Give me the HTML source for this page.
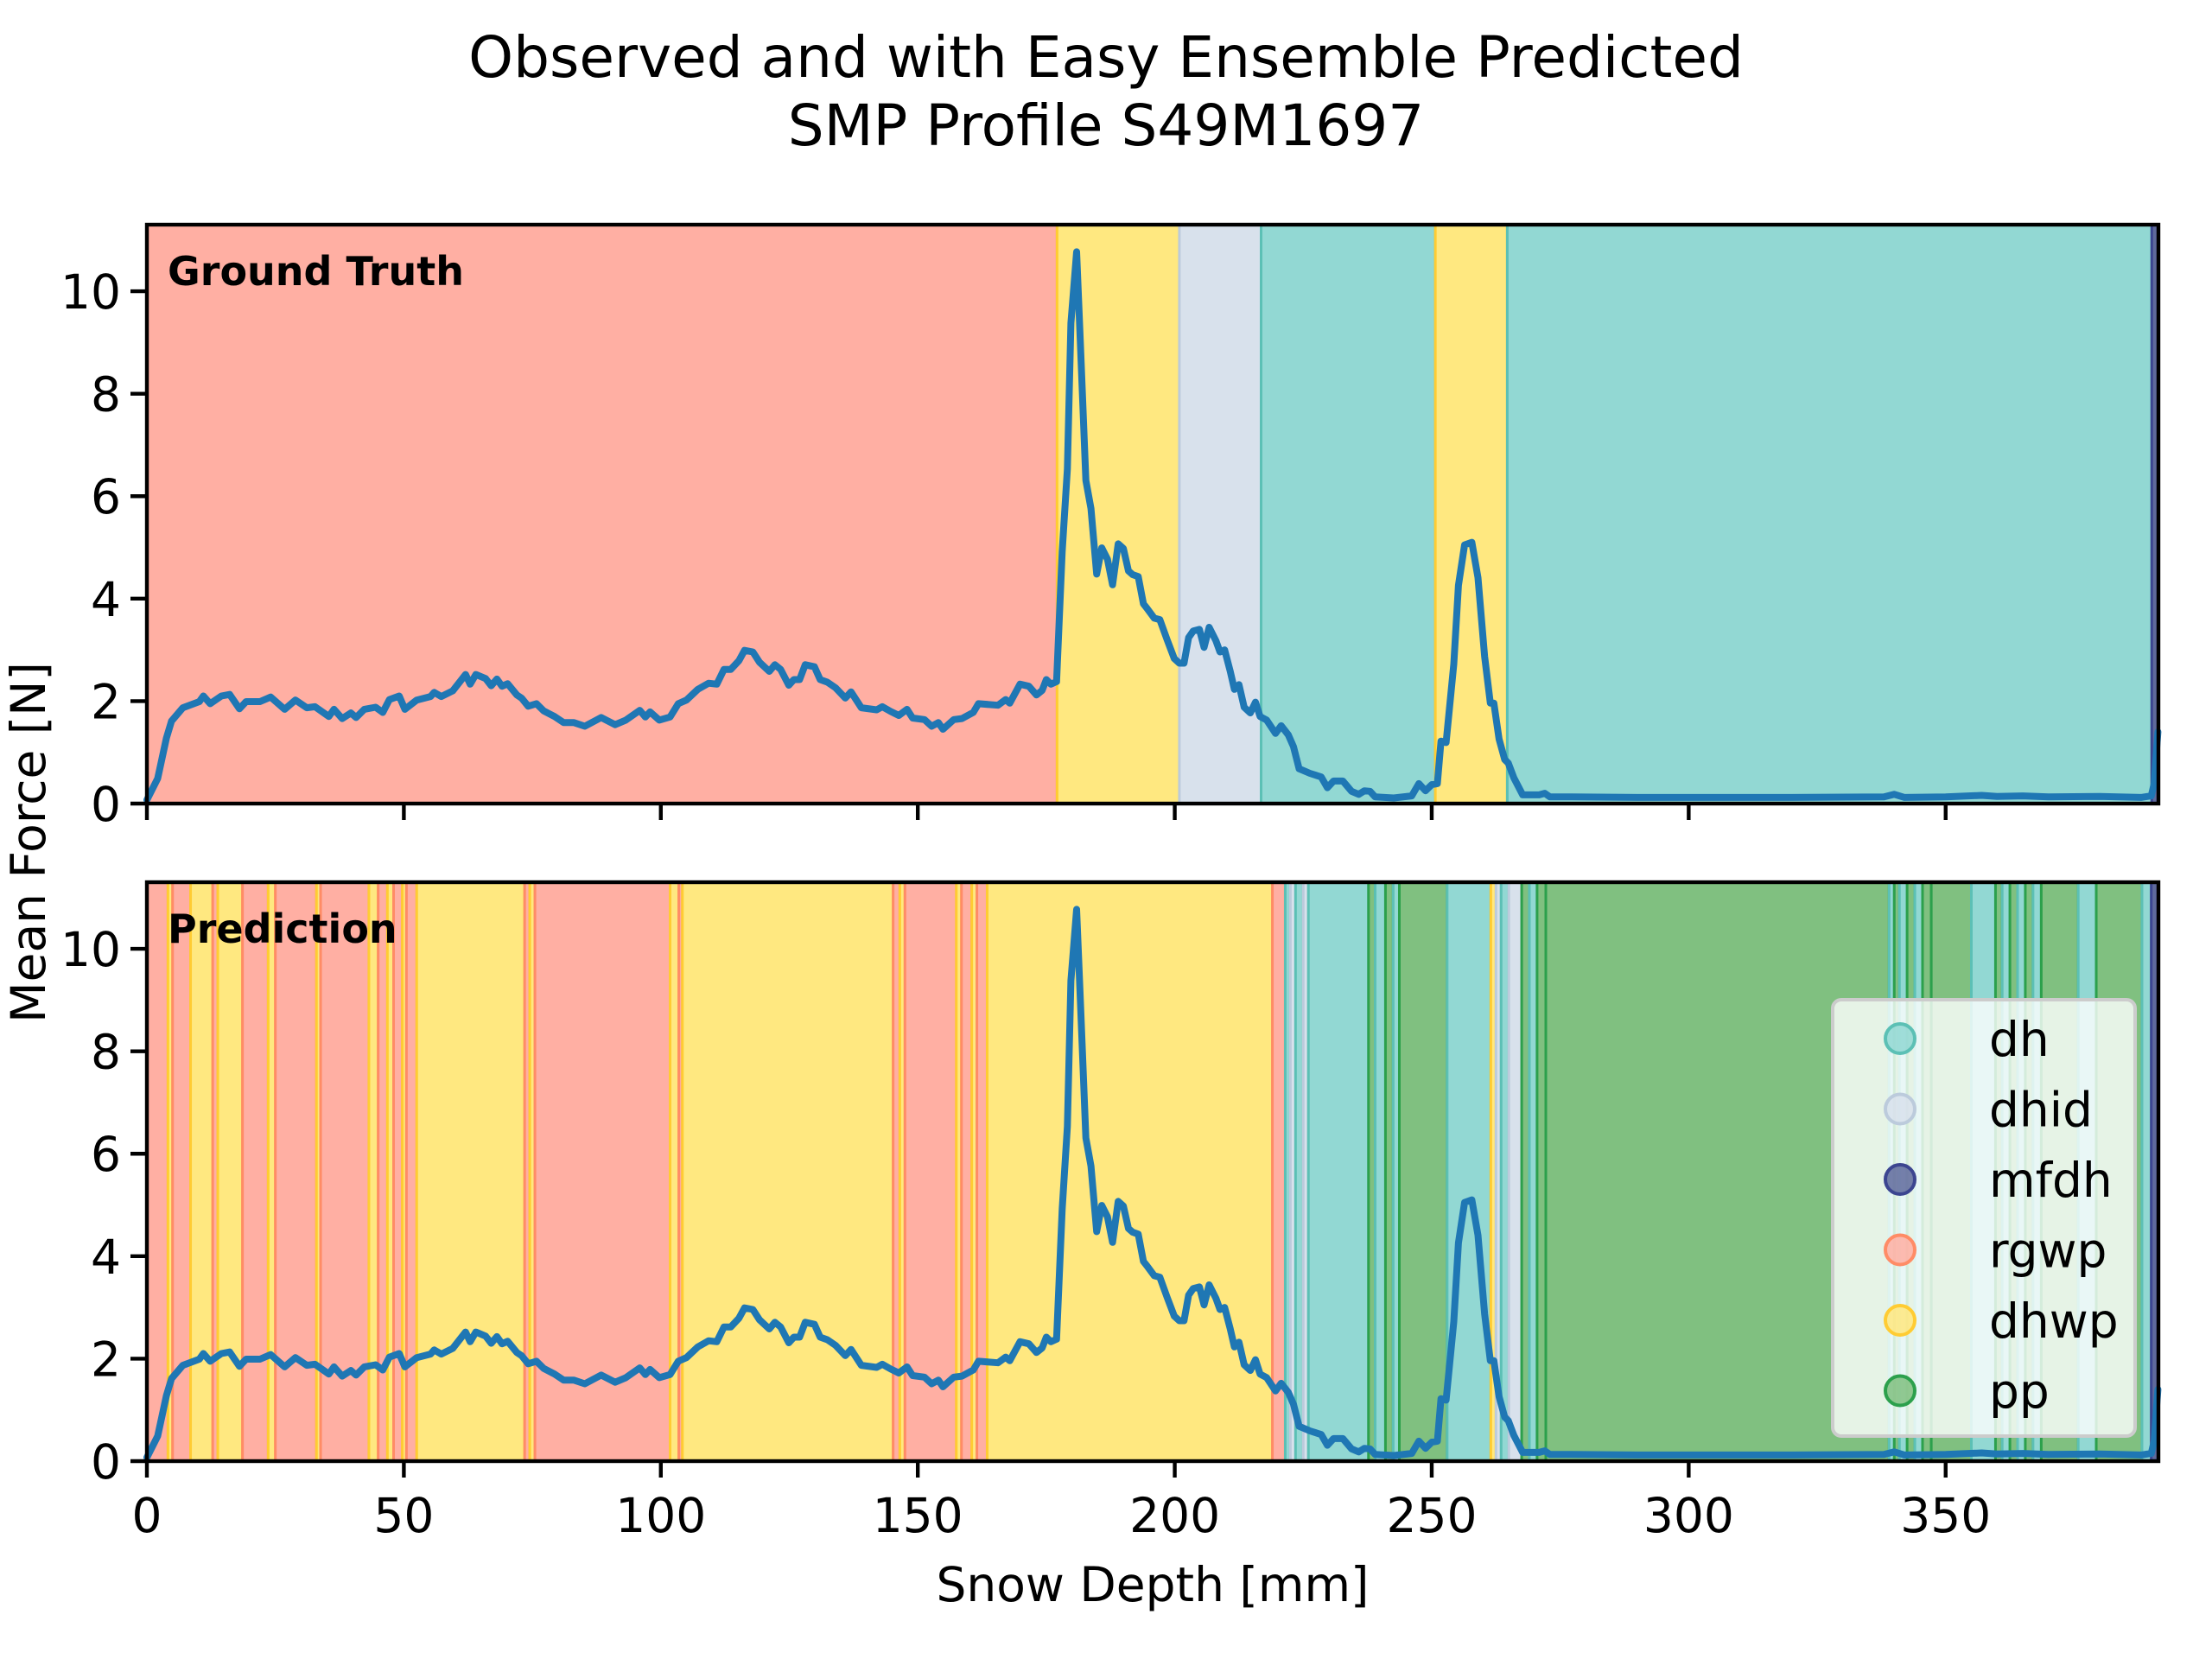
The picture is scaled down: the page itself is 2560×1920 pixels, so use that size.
<!DOCTYPE html>
<html><head><meta charset="utf-8"><style>
html,body{margin:0;padding:0;background:#fff;}
svg{display:block;font-family:"DejaVu Sans","Liberation Sans",sans-serif;}
</style></head><body>
<svg id="chart" width="2560" height="1920" viewBox="0 0 2560 1920" xmlns="http://www.w3.org/2000/svg">
<rect width="2560" height="1920" fill="#fff"/>
<text x="1280" y="89" font-size="66" text-anchor="middle">Observed and with Easy Ensemble Predicted</text>
<text x="1280" y="168" font-size="66" text-anchor="middle">SMP Profile S49M1697</text>
<g id="top"></g>
<g id="bot"></g>
<text transform="translate(52,975) rotate(-90)" font-size="55" text-anchor="middle">Mean Force [N]</text>
<text x="1334" y="1853" font-size="55" text-anchor="middle">Snow Depth [mm]</text>
</svg>
<script>
const depth = [0,2.1,3.8,4.8,7.0,10.2,11.0,12.3,14.5,16.1,18.0,19.3,22.0,24.1,26.8,28.9,31.1,32.7,35.4,36.4,38.0,39.7,40.7,42.3,44.5,45.9,47.2,49.1,50.2,52.5,55.2,55.9,57.3,59.5,62.0,62.9,64.0,65.9,67.0,68.1,69.1,70.2,72.0,72.9,74.2,75.8,77.2,79.3,81.1,83.1,85.2,88.4,91.1,93.2,95.9,97.0,97.9,99.7,101.8,103.4,105.0,107.2,109.3,110.9,112.3,113.6,115.2,116.3,117.9,119.2,121.1,122.2,123.3,124.9,125.9,127.0,128.1,129.9,131.0,132.4,134.0,135.9,137.0,139.0,142.0,143.1,144.7,146.3,147.9,149.0,151.3,152.7,154.0,154.9,157.0,158.6,160.8,161.8,165.6,167.1,167.9,169.9,171.6,173.1,174.2,175.0,175.9,177.0,178.1,179.1,179.8,180.9,181.6,182.7,183.7,184.8,185.8,186.9,187.9,189.0,190.0,191.0,191.8,192.9,193.9,194.6,196.0,197.1,198.5,199.9,200.9,201.8,202.7,203.6,204.8,205.7,206.7,208.0,208.8,209.7,210.8,211.6,212.5,213.5,214.7,215.7,216.6,217.9,219.6,220.7,222.1,223.1,224.2,226.3,228.5,229.7,230.9,232.7,234.4,235.8,236.9,238.0,239.0,242.6,246.1,247.5,248.8,250.0,251.1,251.8,252.8,254.3,255.2,256.4,257.8,259.0,260.3,261.4,262.1,263.1,264.2,264.9,266.0,267.7,270.9,272.0,273.0,277.2,290,300,320,338,340,342,350,357,360,365,370,380,388,390,390.6,391.0,391.3];
const force = [0.07,0.49,1.28,1.61,1.87,1.99,2.1,1.95,2.1,2.13,1.85,1.99,1.99,2.08,1.84,2.02,1.87,1.89,1.7,1.84,1.66,1.77,1.68,1.84,1.88,1.78,2.03,2.1,1.84,2.02,2.09,2.17,2.09,2.2,2.52,2.33,2.52,2.44,2.3,2.43,2.29,2.34,2.12,2.06,1.9,1.95,1.81,1.7,1.58,1.58,1.51,1.68,1.54,1.63,1.82,1.69,1.79,1.63,1.69,1.95,2.02,2.23,2.35,2.33,2.62,2.62,2.79,2.99,2.96,2.76,2.58,2.71,2.62,2.31,2.42,2.42,2.71,2.67,2.42,2.37,2.26,2.06,2.18,1.87,1.83,1.89,1.8,1.72,1.84,1.67,1.64,1.51,1.58,1.45,1.64,1.66,1.78,1.95,1.92,2.03,1.96,2.33,2.29,2.12,2.21,2.42,2.33,2.38,4.92,6.53,9.38,10.77,9.09,6.31,5.76,4.48,4.99,4.77,4.27,5.07,4.98,4.54,4.47,4.43,3.9,3.81,3.62,3.59,3.2,2.83,2.74,2.74,3.24,3.37,3.4,3.05,3.44,3.18,2.96,3.0,2.58,2.23,2.32,1.88,1.77,1.98,1.7,1.63,1.37,1.52,1.34,1.11,0.68,0.59,0.52,0.31,0.44,0.44,0.24,0.18,0.25,0.24,0.13,0.11,0.15,0.39,0.25,0.37,0.39,1.22,1.19,2.72,4.26,5.05,5.1,4.41,2.87,1.96,1.96,1.26,0.86,0.79,0.5,0.17,0.17,0.2,0.13,0.13,0.12,0.12,0.12,0.13,0.18,0.12,0.13,0.16,0.14,0.15,0.13,0.14,0.12,0.15,0.4,1.0,1.4];
const gtStart = [0,177.1,200.9,216.8,250.7,264.7,390.1];
const gtEnd   = [177.1,200.9,216.8,250.7,264.7,390.1,391.4];
const gtClass = ["rgwp","dhwp","dhid","dh","dhwp","dh","mfdh"];
const prStart = [0,4.1,5.0,8.5,12.8,13.8,18.6,23.6,25,33,33.8,43.2,45,46.8,48,49.7,50.5,52.5,73.5,74.5,75.5,101.8,103.5,104.2,145.2,146.5,147.5,157.5,158.5,160.5,161.5,163.5,219,221.5,222.5,223.5,225,226,237.7,239,241,242.5,243.7,253,261.5,262.5,263.5,265,267.5,269,270.5,272.2,339,340,341,342.5,344,345.5,347.2,355,359.7,361,362.5,364,365.5,367,368.6,375.8,379.3,388.2,390];
const prEnd = prStart.slice(1).concat([391.4]);
const prClass = ["rgwp","dhwp","rgwp","dhwp","rgwp","dhwp","rgwp","dhwp","rgwp","dhwp","rgwp","dhwp","rgwp","dhwp","rgwp","dhwp","rgwp","dhwp","rgwp","dhwp","rgwp","dhwp","rgwp","dhwp","rgwp","dhwp","rgwp","dhwp","rgwp","dhwp","rgwp","dhwp","rgwp","dh","dhid","dh","dhid","dh","pp","dh","pp","dh","pp","dh","dhwp","dhid","dh","dhid","pp","dh","pp","pp","dh","pp","dh","pp","dh","pp","pp","dh","pp","dh","pp","dh","pp","dh","pp","dh","pp","dh","mfdh"];
const xTicks = [0,50,100,150,200,250,300,350];
const yTicks = [0,2,4,6,8,10];
const legendLabels = ["dh","dhid","mfdh","rgwp","dhwp","pp"];

const FILL = {dh:"#92d8d3",dhid:"#d8e1ec",mfdh:"#5f6a9c",rgwp:"#ffafa3",dhwp:"#ffe880",pp:"#80c080"};
const EDGE = {dh:"#5cc0b5",dhid:"#bccbdc",mfdh:"#3c4590",rgwp:"#ff8c66",dhwp:"#ffcc33",pp:"#2ca04c"};
const NS="http://www.w3.org/2000/svg";
const XL=170, XR=2498, XMAX=391.4, YMAX=11.3, H=670;
const xs = d => XL + d*(XR-XL)/XMAX;
function mk(tag, attrs, parent){const e=document.createElementNS(NS,tag);for(const k in attrs)e.setAttribute(k,attrs[k]);parent.appendChild(e);return e;}

function panel(g, top, starts, ends, classes, label, showXLabels){
  const bot = top+H;
  const ys = v => bot - v*H/YMAX;
  for(let i=0;i<starts.length;i++){
    const r=mk('rect',{x:xs(starts[i]),y:top,width:Math.max(1,xs(ends[i])-xs(starts[i])),height:H,fill:FILL[classes[i]],stroke:EDGE[classes[i]],'stroke-width':3},g);
    
    
  }
  let d='';
  for(let i=0;i<depth.length;i++) d+=(i?'L':'M')+xs(depth[i]).toFixed(1)+','+ys(force[i]).toFixed(1);
  const p=mk('path',{d:d,fill:'none',stroke:'#1f77b4','stroke-width':8,'stroke-linejoin':'round','stroke-linecap':'round'},g);
  
  
  const t=mk('text',{x:194,y:top+70,'font-size':46,'font-weight':'bold'},g);
  t.textContent=label;
  
  
  const fr=mk('rect',{x:XL,y:top,width:XR-XL,height:H,fill:'none',stroke:'#000','stroke-width':4.4},g);
  
  
  xTicks.forEach(v=>{
    const l=mk('line',{x1:xs(v),x2:xs(v),y1:bot,y2:bot+19,stroke:'#000','stroke-width':4.4},g);
    
    
    if(showXLabels){
      const tx=mk('text',{x:xs(v),y:bot+82,'font-size':55,'text-anchor':'middle'},g);
      tx.textContent=v;
      
      
    }
  });
  yTicks.forEach(v=>{
    const l=mk('line',{x1:XL-19,x2:XL,y1:ys(v),y2:ys(v),stroke:'#000','stroke-width':4.4},g);
    
    
    const tx=mk('text',{x:XL-30,y:ys(v)+20,'font-size':55,'text-anchor':'end'},g);
    tx.textContent=v;
    
    
  });
}
panel(document.getElementById('top'),260,gtStart,gtEnd,gtClass,'Ground Truth',false);
const bg=document.getElementById('bot');
panel(bg,1021,prStart,prEnd,prClass,'Prediction',true);

const lg=mk('g',{},bg);


mk('rect',{x:2121,y:1157,width:350,height:505,rx:10,fill:'#ffffff','fill-opacity':0.8,stroke:'#cccccc','stroke-width':4},lg);
legendLabels.forEach((c,i)=>{
  const y=1202+i*81.5;
  const ci=mk('circle',{cx:2199,cy:y,r:17,fill:FILL[c],stroke:EDGE[c],'stroke-width':4,'fill-opacity':0.85},lg);
  
  
  const tx=mk('text',{x:2302,y:y+20,'font-size':55},lg);
  tx.textContent=c;
  
  
});
</script>
</body></html>
